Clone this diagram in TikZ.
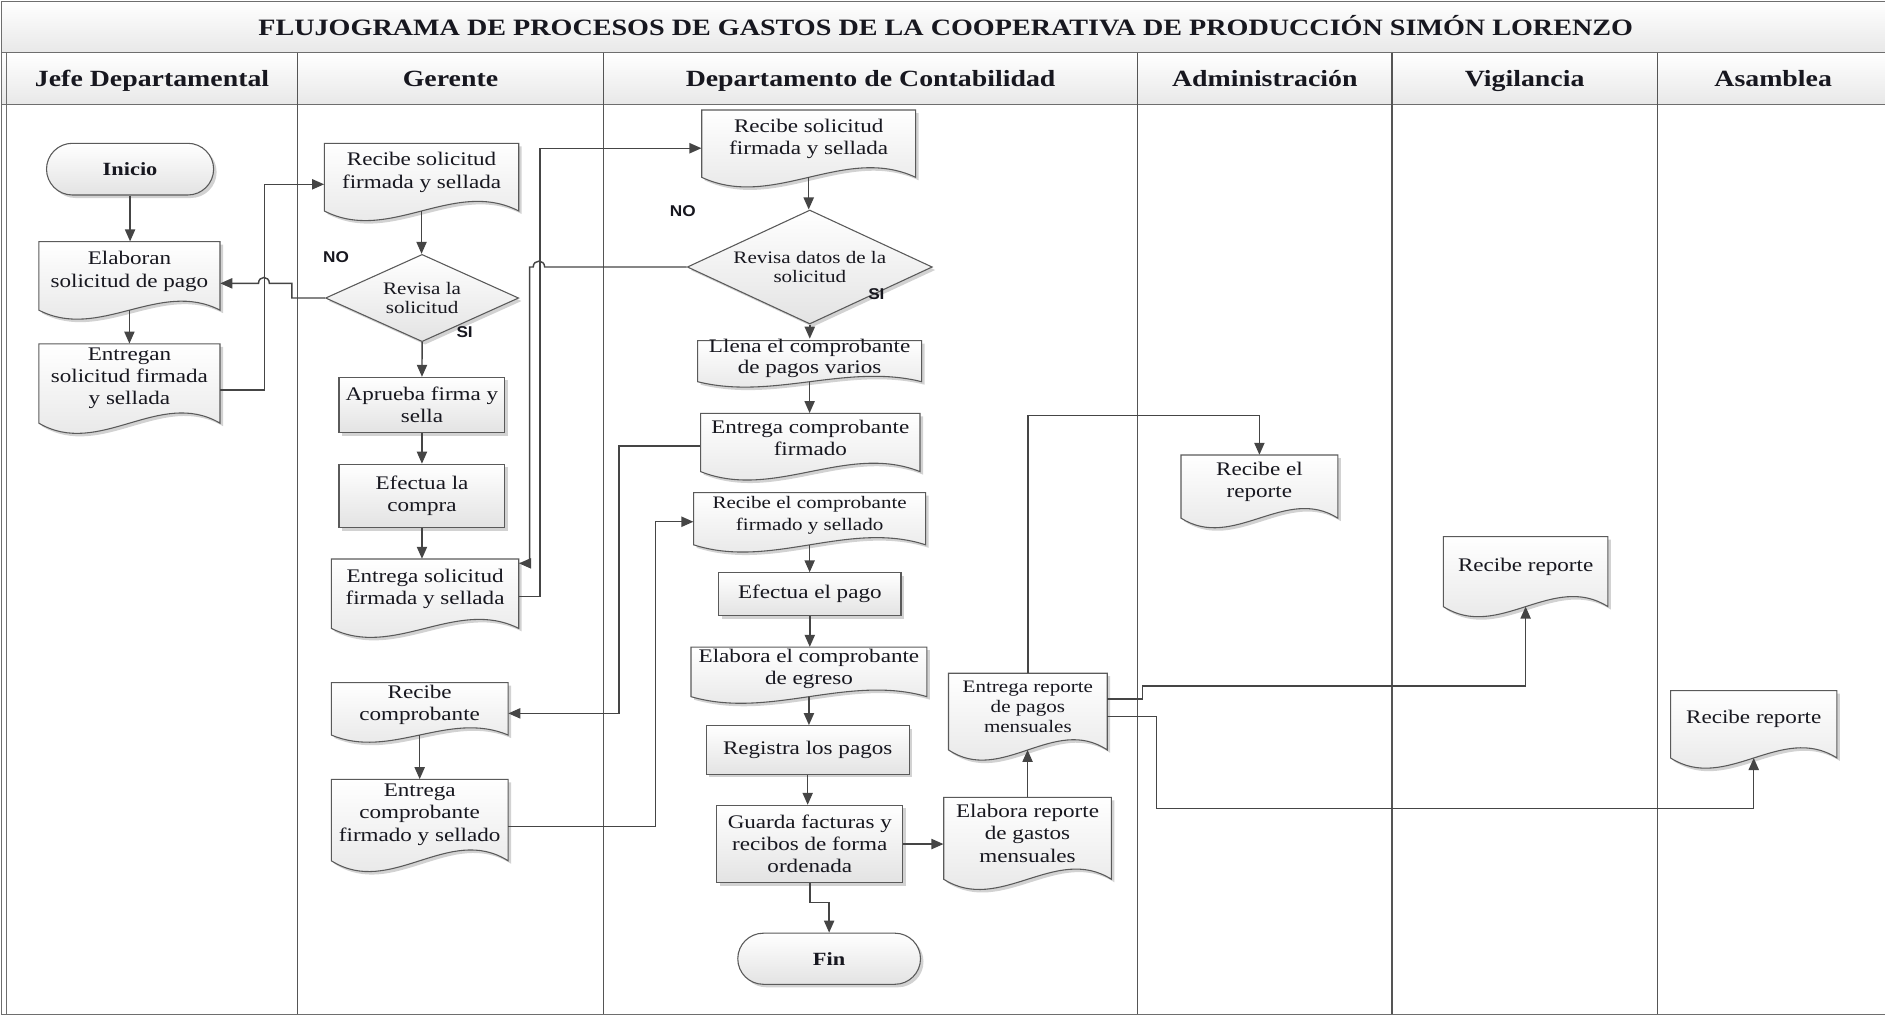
\documentclass[tikz,border=0pt]{standalone}
\usepackage{fontspec}
\setmainfont{Liberation Serif}[FakeStretch=1.2]
\newfontfamily\tagfamily{Liberation Sans}[FakeStretch=1.1]
\usetikzlibrary{shapes.geometric,shapes.misc,shadows,calc,arrows.meta,backgrounds}

\definecolor{ink}{HTML}{17171F}
\definecolor{edge}{HTML}{5A5A5A}
\definecolor{wire}{HTML}{454545}
\definecolor{rule}{HTML}{555555}
\definecolor{framegray}{HTML}{6E6E6E}

\newcommand\boxtext{\fontsize{16}{18.5}\selectfont}
\newcommand\tighttext{\fontsize{16}{18}\selectfont}
\newcommand\midtext{\fontsize{14.6}{18}\selectfont}
\newcommand\smalltext{\fontsize{14.6}{16.6}\selectfont}
\newcommand\dectext{\fontsize{14.6}{16.3}\selectfont}
\newcommand\termtext{\fontsize{15.5}{18}\selectfont\bfseries}
\newcommand\headtext{\fontsize{19.3}{22}\selectfont\bfseries}
\newcommand\titletext{\fontsize{19.5}{22}\selectfont\bfseries}
\newcommand\tagtext{\fontsize{13}{15}\selectfont\tagfamily\bfseries}

\begin{document}
\begin{tikzpicture}[x=1pt,y=-1pt,
  shapebase/.style={draw=edge, line width=0.9pt, top color=white, bottom color=black!11,
     drop shadow={shadow xshift=2.5pt, shadow yshift=-2.5pt, opacity=0.25, fill=black!70}},
  procbox/.style={shapebase, rectangle, inner sep=0pt, align=center, text=ink, font=\boxtext},
  termbox/.style={shapebase, rounded rectangle, inner sep=0pt, text=ink, font=\termtext},
  decbox/.style={shapebase, diamond, aspect=2.2, inner sep=0pt, align=center, text=ink, font=\dectext},
  docbox/.style={rectangle, inner sep=0pt, align=center, text=ink, font=\boxtext},
  docedge/.style={shapebase},
  flow/.style={draw=wire, line width=1.2pt, -{Triangle[length=10pt,width=8.5pt]}},
  lane/.style={draw=rule, line width=1.1pt},
  tag/.style={font=\tagtext, text=ink},
  head/.style={font=\headtext, text=ink, anchor=base},
]
\useasboundingbox (0,0) rectangle (1568,844);

% ---------- Jefe Departamental ----------
\node[termbox, minimum width=139, minimum height=43] (inicio) at (108.2,140.7) {Inicio};
\node[docbox, minimum width=150.7, minimum height=49.5] (elab) at (107.65,225.75) {Elaboran\\solicitud de pago};
\node[docbox, minimum width=150.7, minimum height=57.5] (entg) at (107.65,314.75) {Entregan\\solicitud firmada\\y sellada};

% ---------- Gerente ----------
\node[docbox, minimum width=161.7, minimum height=48.3] (recG) at (350.65,143.35) {Recibe solicitud\\firmada y sellada};
\node[decbox, minimum width=160.7, minimum height=72.6] (revG) at (351.1,247.9) {Revisa la\\solicitud};
\node[procbox, minimum width=138, minimum height=46] (aprueba) at (351,336.9) {Aprueba firma y\\sella};
\node[procbox, minimum width=138, minimum height=52.7] (efectua) at (351,412.5) {Efectua la\\compra};
\node[docbox, minimum width=155.9, minimum height=50.2] (entsolG) at (353.55,490.1) {Entrega solicitud\\firmada y sellada};
\node[docbox, minimum width=147, minimum height=37.6] (recComp) at (349.1,586.6) {Recibe\\comprobante};
\node[docbox, minimum width=147, minimum height=58.7] (entComp) at (349.1,677.65) {Entrega\\comprobante\\firmado y sellado};
\node[tag] (noG) at (279.5,213.5) {NO};
\node[tag] (siG) at (386.5,275.9) {SI};

% ---------- Departamento de Contabilidad ----------
\node[docbox, minimum width=178, minimum height=48] (recC) at (672.7,115.5) {Recibe solicitud\\firmada y sellada};
\node[decbox, minimum width=203.8, minimum height=94.8] (revC) at (673.6,222.1) {Revisa datos de la\\solicitud};
\node[docbox, font=\tighttext, minimum width=186.3, minimum height=29.6] (llena) at (673.45,298.2) {Llena el comprobante\\de pagos varios};
\node[docbox, minimum width=182.5, minimum height=41.5] (entCF) at (674.05,364.55) {Entrega comprobante\\firmado};
\node[docbox, font=\midtext, minimum width=193, minimum height=37.4] (recCFS) at (673.5,428.5) {Recibe el comprobante\\firmado y sellado};
\node[procbox, minimum width=151.8, minimum height=35.5] (efPago) at (673.6,494.25) {Efectua el pago};
\node[docbox, minimum width=196.2, minimum height=35.7] (elabEg) at (672.9,556.15) {Elabora el comprobante\\de egreso};
\node[procbox, minimum width=169, minimum height=40.6] (registra) at (671.85,623.9) {Registra los pagos};
\node[procbox, minimum width=154.8, minimum height=64.4] (guarda) at (673.6,702.1) {Guarda facturas y\\recibos de forma\\ordenada};
\node[termbox, minimum width=152, minimum height=42.5] (fin) at (689.7,797.5) {Fin};
\node[docbox, minimum width=139.5, minimum height=59.6] (elabRep) at (854.75,693.1) {Elabora reporte\\de gastos\\mensuales};
\node[docbox, font=\smalltext, minimum width=132, minimum height=55.3] (entRep) at (855,587.65) {Entrega reporte\\de pagos\\mensuales};
\node[tag] (noC) at (568,176) {NO};
\node[tag] (siC) at (729,244.6) {SI};

% ---------- Administracion, Vigilancia, Asamblea ----------
\node[docbox, minimum width=130.4, minimum height=44.5] (recRepA) at (1047.6,400.75) {Recibe el\\reporte};
\node[docbox, minimum width=136.9, minimum height=49.8] (recRepV) at (1269.05,471.3) {Recibe reporte};
\node[docbox, minimum width=138.4, minimum height=47.5] (recRepS) at (1458.8,598.25) {Recibe reporte};

% ---------- frame, lanes and document outlines ----------
\begin{scope}[on background layer]
  \path[top color=white, bottom color=black!9] (1.4,1.4) rectangle (1575,43.8);
  \path[top color=white, bottom color=black!9] (1.4,43.8) rectangle (1575,86.8);
  \draw[draw=framegray, line width=1.3pt] (1.4,1.4) rectangle (1575,843.7);
  \draw[draw=framegray, line width=1.3pt] (1.4,43.8) -- (1575,43.8);
  \draw[draw=framegray, line width=1.3pt] (1.4,86.8) -- (1575,86.8);
  \draw[draw=framegray, line width=1.3pt] (5.5,43.8) -- (5.5,843.7);
  \foreach \lx in {247.4,502,946.3,1157.9,1378.5}
    \draw[lane] (\lx,43.8) -- (\lx,843.7);
  % document symbols: flat top, wavy bottom
  \foreach \n/\w/\h/\a in {elab/150.7/49.5/7.5, entg/150.7/57.5/8.5, recG/161.7/48.3/8,
      entsolG/155.9/50.2/7.5, recComp/147/37.6/6, entComp/147/58.7/9, recC/178/48/8,
      llena/186.3/29.6/4.5, entCF/182.5/41.5/7, recCFS/193/37.4/6, elabEg/196.2/35.7/5.5,
      elabRep/139.5/59.6/8.5, entRep/132/55.3/8.5, recRepA/130.4/44.5/8,
      recRepV/136.9/49.8/8.4, recRepS/138.4/47.5/8.5}{
    \path[docedge]
      ($(\n.center)+(-\w/2,-\h/2)$) -- ($(\n.center)+(\w/2,-\h/2)$)
      -- ($(\n.center)+(\w/2,\h/2+\a)$)
      .. controls ($(\n.center)+(\w/6,\h/2+\a-3.46*\a)$) and ($(\n.center)+(-\w/6,\h/2+\a+3.46*\a)$) ..
      ($(\n.center)+(-\w/2,\h/2+\a)$) -- cycle;
    \coordinate (\n-b) at ($(\n.center)+(0,\h/2+\a)$);
  }
\end{scope}

% ---------- headings ----------
\node[font=\titletext, text=ink, anchor=base] (titulo) at (786.7,29.3) {FLUJOGRAMA DE PROCESOS DE GASTOS DE LA COOPERATIVA DE PRODUCCIÓN SIMÓN LORENZO};
\node[head] (hJefe) at (126.5,71.8) {Jefe Departamental};
\node[head] (hGer) at (374.7,71.8) {Gerente};
\node[head] (hCont) at (724.2,71.8) {Departamento de Contabilidad};
\node[head] (hAdm) at (1052.1,71.8) {Administración};
\node[head] (hVig) at (1268.2,71.8) {Vigilancia};
\node[head] (hAsa) at (1475,71.8) {Asamblea};

% ---------- connectors ----------
\draw[flow] (inicio.south) -- (inicio.south |- elab.north);
\draw[flow] (elab-b) -- (entg.north);
\draw[flow] ([yshift=-9.65pt]entg.east) -- ++(37,0) |- ([yshift=-9.95pt]recG.west);
\draw[flow] (revG.west) -- ++(-27.5,0) -- ++(0,-12.2) -- ++(-18.75,0)
   .. controls +(0,-6.5) and +(0,-6.5) .. ++(-9,0) -- ([yshift=-9.95pt]elab.east);
\draw[flow] (recG-b) -- (recG-b |- revG.north);
\draw[flow] (revG.south) -- (aprueba.north);
\draw[flow] (aprueba.south) -- (efectua.north);
\draw[flow] (efectua.south) -- (efectua.south |- entsolG.north);
\draw[flow] (revC.west) -- ++(-118.2,0)
   .. controls +(0,-6.5) and +(0,-6.5) .. ++(-9.5,0) -- ++(-3,0) |- ([yshift=21.5pt]entsolG.east);
\draw[flow] ([yshift=-6.2pt]entsolG.east) -- ++(17.5,0) |- ([yshift=-7.8pt]recC.west);
\draw[flow] (recC-b) -- (recC-b |- revC.north);
\draw[flow] (revC.south) -- (revC.south |- llena.north);
\draw[flow] (llena-b) -- (llena-b |- entCF.north);
\draw[flow] ([yshift=-6.5pt]entCF.west) -- ++(-67.8,0) |- ([yshift=-6.8pt]recComp.east);
\draw[flow] (recComp-b) -- (recComp-b |- entComp.north);
\draw[flow] ([yshift=-10pt]entComp.east) -- ++(122.6,0) |- ([yshift=-5.5pt]recCFS.west);
\draw[flow] (recCFS-b) -- (recCFS-b |- efPago.north);
\draw[flow] (efPago.south) -- (efPago.south |- elabEg.north);
\draw[flow] (elabEg-b) -- (elabEg-b |- registra.north);
\draw[flow] (registra.south) -- (registra.south |- guarda.north);
\draw[flow] (guarda.south) -- ++(0,16) -| (fin.north);
\draw[flow] (guarda.east) -- (guarda.east -| elabRep.west);
\draw[flow] (elabRep.north) -- (elabRep.north |- entRep-b);
\draw[flow] (entRep.north) -- ++(0,-214) -| (recRepA.north);
\draw[flow] ([yshift=6.25pt]entRep.east) -- ++(29,0) -- ++(0,-10.8) -| (recRepV-b);
\draw[flow] ([yshift=-8.5pt]entRep.east) -- ++(41,0) -- ++(0,76.3) -| (recRepS-b);
\end{tikzpicture}
\end{document}
